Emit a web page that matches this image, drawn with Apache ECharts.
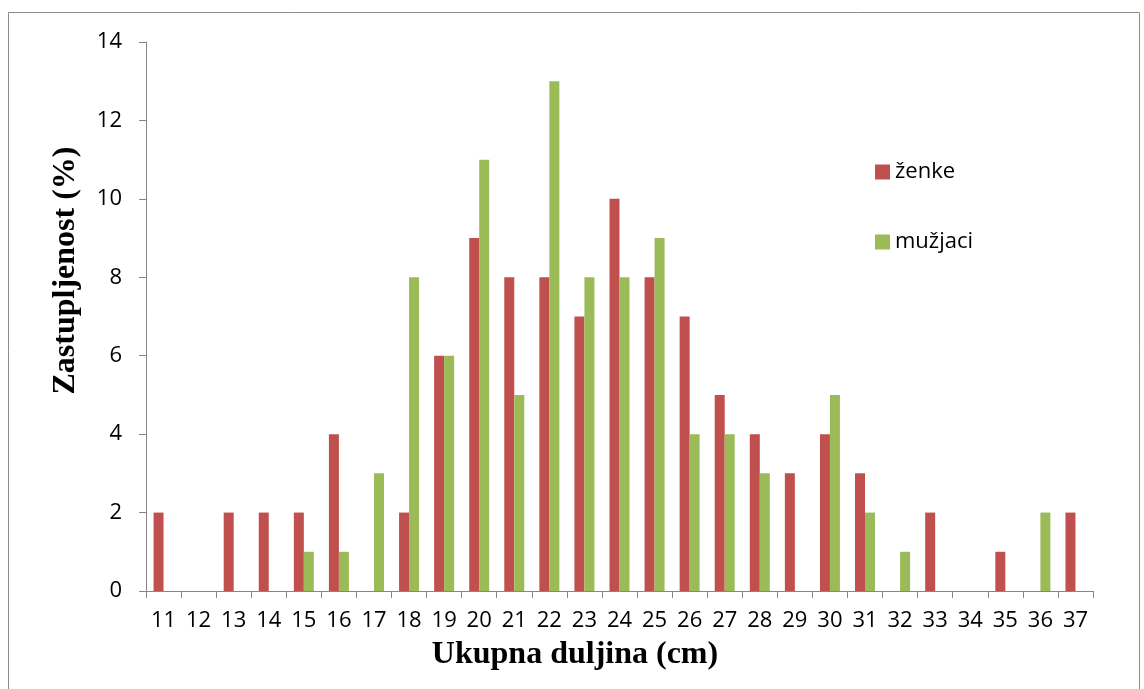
<!DOCTYPE html>
<html><head><meta charset="utf-8">
<script src="https://cdn.jsdelivr.net/npm/echarts@6/dist/echarts.min.js"></script>
<style>html,body{margin:0;padding:0;background:#fff}#c{width:1144px;height:689px}</style>
</head><body><div id="c"></div>
<script>
const categories = ['11','12','13','14','15','16','17','18','19','20','21','22','23','24','25','26','27','28','29','30','31','32','33','34','35','36','37'];
const zenke   = [2,null,2,2,2,4,null,2,6,9,8,8,7,10,8,7,5,4,3,4,3,null,2,null,1,null,2];
const muzjaci = [null,null,null,null,1,1,3,8,6,11,5,13,8,8,9,4,4,3,null,5,2,1,null,null,null,2,null];
const seriesNames = ['ženke','mužjaci'];

const chart = echarts.init(document.getElementById('c'));
const axisCol = '#868686';
chart.setOption({
  animation:false,
  graphic:[{type:'rect',shape:{x:8.5,y:12.5,width:1131,height:690},style:{fill:'none',stroke:'#8c8c8c',lineWidth:1},silent:true}],
  grid:{left:146,right:51,top:42,bottom:98},
  legend:{orient:'vertical',left:870,top:156,itemWidth:15,itemHeight:15,itemGap:48,
    icon:'rect',textStyle:{fontFamily:'Open Sans',fontSize:22,color:'#000'},data:seriesNames},
  xAxis:{type:'category',data:categories,
    name:'Ukupna duljina (cm)',nameLocation:'middle',nameGap:48,
    nameTextStyle:{fontFamily:'Liberation Serif',fontWeight:'bold',fontSize:32,color:'#000',padding:[0,89,0,0]},
    axisLine:{lineStyle:{color:axisCol}},
    axisTick:{show:true,length:7,lineStyle:{color:axisCol},alignWithLabel:false},
    axisLabel:{fontFamily:'Open Sans',fontSize:22,color:'#000',margin:19,interval:0}},
  yAxis:{type:'value',min:0,max:14,interval:2,
    name:'Zastupljenost (%)',nameLocation:'middle',nameGap:64,
    nameTextStyle:{fontFamily:'Liberation Serif',fontWeight:'bold',fontSize:32,color:'#000',padding:[0,0,0,92]},
    axisLine:{show:true,lineStyle:{color:axisCol}},
    axisTick:{show:true,length:7,lineStyle:{color:axisCol}},
    splitLine:{show:false},
    axisLabel:{fontFamily:'Open Sans',fontSize:22,color:'#000',margin:24}},
  series:[
    {name:seriesNames[0],type:'bar',data:zenke,barWidth:10,barGap:'0%',itemStyle:{color:'#C0504D'}},
    {name:seriesNames[1],type:'bar',data:muzjaci,barWidth:10,barGap:'0%',itemStyle:{color:'#9BBB59'}}
  ]
});
</script></body></html>
